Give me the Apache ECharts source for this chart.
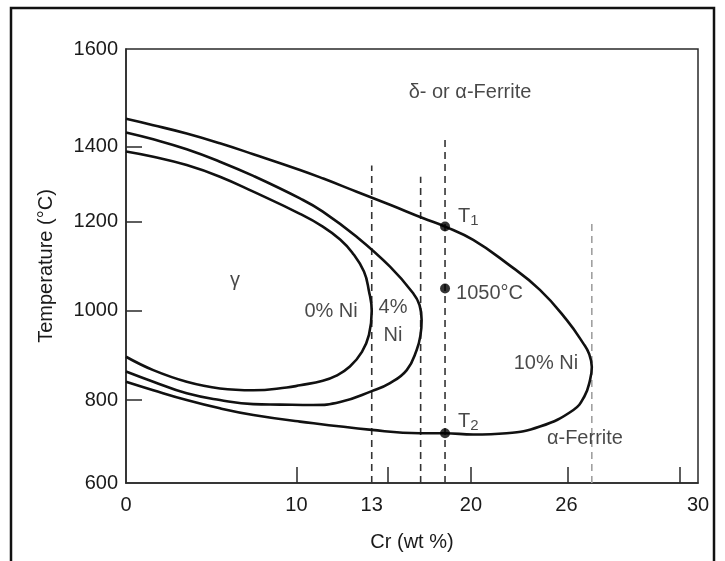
<!DOCTYPE html>
<html>
<head>
<meta charset="utf-8">
<script src="https://cdn.jsdelivr.net/npm/echarts@6/dist/echarts.min.js"></script>
<style>
  html, body { margin: 0; padding: 0; background: #fff; }
  #chart { width: 725px; height: 561px; }
</style>
</head>
<body>
<div id="chart"></div>
<script>
// Values printed under the ticks of each axis
const crTicks = [0, 10, 13, 20, 26, 30];
const tempTicks = [600, 800, 1000, 1200, 1400, 1600];

// γ-loop boundaries as [Cr wt%, °C]: upper branch out to the nose, lower branch back
const ni0 = [
  [0, 1387], [1.6, 1373], [3.56, 1351], [5.51, 1320], [7.47, 1280],
  [10.14, 1221], [11.05, 1189], [11.74, 1160], [12.22, 1131], [12.69, 1088], [12.89, 1044],
  [13, 1000],
  [12.89, 946], [12.61, 908], [12.13, 875], [11.57, 854], [11.05, 843], [10.14, 833],
  [9.43, 828], [7.47, 822], [5.51, 826], [3.56, 841], [1.6, 867], [0, 897]
];
const ni4 = [
  [0, 1429], [1.6, 1415], [3.56, 1393], [5.51, 1360], [7.47, 1322], [10.14, 1262],
  [11.05, 1227], [12.4, 1166], [14.29, 1099], [15.91, 1040], [16.37, 1013], [16.52, 979],
  [16.44, 946], [16.17, 912], [15.47, 867], [14.29, 838], [13, 820], [11.74, 795],
  [10.66, 788], [9.03, 789], [7.47, 790], [5.51, 800], [3.56, 815], [1.6, 841], [0, 864]
];
const ni10 = [
  [0, 1457], [1.6, 1444], [3.56, 1427], [5.51, 1407], [7.47, 1380], [10.14, 1338],
  [11.07, 1315], [12.4, 1280], [14.29, 1245], [16.64, 1209], [18.17, 1189], [20.14, 1159],
  [22.24, 1107], [24.33, 1047], [26.01, 979], [26.51, 927], [26.69, 903], [26.77, 874],
  [26.71, 843], [26.55, 809], [26.21, 776], [24.33, 736], [22.24, 720], [20.14, 717],
  [18.17, 720], [16.4, 720], [13, 728], [10.14, 748], [7.47, 764], [5.51, 780],
  [3.56, 800], [1.6, 822], [0, 841]
];

// Vertical composition lines: [Cr wt%, top °C]
const crLines = [[13, 1350], [16.45, 1320], [18.17, 1415]];
const ferriteLine = [26.77, 1200];

// Marked states on the 18 % Cr line
const markedCr = 18.17;
const markedT = [1189, 1050, 720];
const markedNames = ['T1', '1050°C', 'T2'];

// Where each printed tick value sits along its axis (fraction of the axis length);
// the diagram is drawn schematically, so spacing between ticks is not uniform.
const crTickAt = [0, 0.298, 0.4296, 0.6031, 0.7701, 1];
const crMarkAt = [0.299, 0.458, 0.6031, 0.7719, 0.9685];
const tempTickAt = [0, 0.1912, 0.3968, 0.6021, 0.7749, 1];

function warp(v, vals, at) {
  let i = 0;
  while (i < vals.length - 2 && v > vals[i + 1]) i++;
  return at[i] + (v - vals[i]) / (vals[i + 1] - vals[i]) * (at[i + 1] - at[i]);
}
const pt = ([cr, t]) => [warp(cr, crTicks, crTickAt), warp(t, tempTicks, tempTickAt)];
const labelFor = (ticks, at) => (v) => {
  const i = at.findIndex(a => Math.abs(a - v) < 1e-4);
  return i >= 0 ? String(ticks[i]) : '';
};

const FONT = '"Liberation Sans", Arial, Helvetica, sans-serif';
const INK = '#1a1a1a';
const txt = { fontFamily: FONT, fontSize: 20, color: INK };

const curve = (data) => ({
  type: 'line', data: data.map(pt), smooth: 0.45, showSymbol: false, symbol: 'none',
  lineStyle: { color: '#111', width: 2.6 }, z: 4, silent: true
});
const vline = ([cr, top], color) => ({
  type: 'line', data: [pt([cr, 600]), pt([cr, top])], symbol: 'none',
  lineStyle: { color, width: 1.6, type: [7, 5] }, z: 3, silent: true
});

// Region and curve labels, anchored in [Cr wt%, °C]
const notes = [
  { text: 'δ- or α-Ferrite', at: [19.93, 1510] },
  { text: 'γ', at: [6.39, 1067] },
  { text: '0% Ni', at: [11.38, 998] },
  { text: '4%\nNi', at: [14.5, 975] },
  { text: '10% Ni', at: [24.71, 883] },
  { text: 'α-Ferrite', at: [26.56, 707] }
];

const sub = (s) => s.replace(/^T(\d)$/, '{t|T}{s|$1}');

const option = {
  animation: false,
  backgroundColor: '#fff',
  grid: {
    left: 126, right: 27, top: 49, bottom: 78,
    show: true, borderColor: '#2a2a2a', borderWidth: 1.5,
    containLabel: false, outerBoundsMode: 'none'
  },
  xAxis: {
    type: 'value', min: 0, max: 1,
    name: 'Cr (wt %)', nameLocation: 'middle', nameGap: 49,
    nameTextStyle: txt,
    splitLine: { show: false },
    axisLine: { lineStyle: { color: '#2a2a2a', width: 1.5 } },
    axisTick: { inside: true, length: 16, customValues: crMarkAt, lineStyle: { color: '#2a2a2a', width: 1.5 } },
    axisLabel: { customValues: crTickAt, formatter: labelFor(crTicks, crTickAt), margin: 12, ...txt }
  },
  yAxis: {
    type: 'value', min: 0, max: 1,
    name: 'Temperature (°C)', nameLocation: 'middle', nameGap: 70, nameRotate: 90,
    nameTextStyle: txt,
    splitLine: { show: false },
    axisLine: { lineStyle: { color: '#2a2a2a', width: 1.5 } },
    axisTick: { inside: true, length: 16, customValues: tempTickAt.slice(1, 5), lineStyle: { color: '#2a2a2a', width: 1.5 } },
    axisLabel: { customValues: tempTickAt, formatter: labelFor(tempTicks, tempTickAt), margin: 8, ...txt }
  },
  graphic: [{
    type: 'rect', silent: true,
    shape: { x: 11, y: 8, width: 703, height: 620 },
    style: { fill: null, stroke: '#111', lineWidth: 2.5 }
  }],
  series: [
    ...crLines.map(l => vline(l, '#333')),
    vline(ferriteLine, '#a0a0a0'),
    curve(ni0), curve(ni4), curve(ni10),
    {
      type: 'scatter', symbolSize: 10, z: 6, silent: true,
      itemStyle: { color: '#000' },
      data: markedT.map((t, i) => ({
        value: pt([markedCr, t]),
        label: {
          show: true, position: 'right',
          distance: i === 1 ? 6 : 8,
          offset: i === 0 ? [0, -9] : (i === 2 ? [0, -11] : [0, 5]),
          formatter: sub(markedNames[i]),
          ...txt,
          rich: {
            t: { fontFamily: FONT, fontSize: 20, color: INK, lineHeight: 22, verticalAlign: 'top' },
            s: { fontFamily: FONT, fontSize: 15, color: INK, lineHeight: 22, verticalAlign: 'bottom', padding: [12, 0, 0, 0] }
          }
        }
      }))
    },
    {
      type: 'scatter', symbolSize: 0, z: 5, silent: true,
      data: notes.map(n => ({ value: pt(n.at) })),
      label: {
        show: true, position: 'inside', lineHeight: 28,
        formatter: (p) => notes[p.dataIndex].text,
        ...txt
      }
    }
  ]
};

const chart = echarts.init(document.getElementById('chart'), null, { renderer: 'canvas' });
chart.setOption(option);
</script>
</body>
</html>
